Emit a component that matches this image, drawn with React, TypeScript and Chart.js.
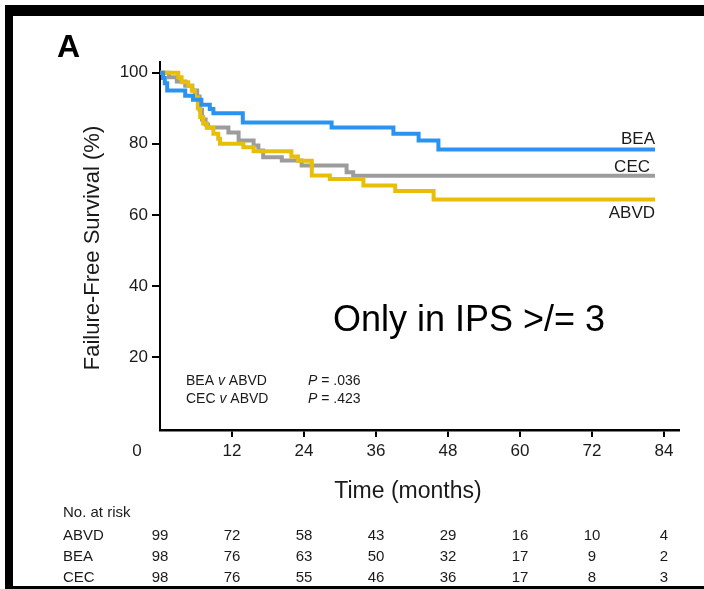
import React, { useEffect, useRef } from "react";
import { Chart, registerables } from "chart.js";

Chart.register(...registerables);

const FONT = "'Liberation Sans', Arial, Helvetica, sans-serif";

// Axis ticks
const X_TICKS = [12, 24, 36, 48, 60, 72, 84];
const Y_TICKS = [20, 40, 60, 80, 100];

// Kaplan-Meier steps (months, failure-free survival %)
const BEA_T = [0, 0.5, 0.8, 1.2, 4.2, 5.5, 6.9, 8.3, 8.9, 13.8, 28.6, 38.9, 43.1, 46.4, 82.5];
const BEA_S = [100, 98.5, 97, 95, 93.5, 92.4, 91.0, 89.8, 88.6, 86.0, 84.6, 82.8, 80.9, 78.4, 78.4];

const CEC_T = [0, 1.5, 2.8, 4.2, 5.4, 6.2, 6.6, 7.0, 7.6, 8.0, 11.4, 13.1, 15.6, 16.4, 17.2, 20.3, 23.6, 31.1, 32.2, 82.5];
const CEC_S = [100, 98.7, 97.5, 96.3, 95.0, 93.3, 89.6, 86.8, 85.4, 84.6, 83.2, 80.9, 79.5, 78.1, 76.2, 75.3, 73.9, 72.0, 71.0, 71.0];

const ABVD_T = [0, 3.05, 3.6, 4.7, 5.3, 5.8, 6.3, 6.7, 7.2, 7.8, 8.9, 9.7, 10.0, 13.9, 15.6, 21.9, 23.0, 25.3, 28.3, 33.9, 39.2, 45.6, 82.5];
const ABVD_S = [100, 98.7, 97.3, 96.3, 95.0, 93.0, 90.0, 87.5, 85.7, 84.5, 82.8, 81.4, 80.0, 79.0, 77.9, 76.4, 75.2, 71.1, 70.1, 68.3, 66.7, 64.3, 64.3];

// Number at risk table
const RISK_TIMES = [0, 12, 24, 36, 48, 60, 72, 84];
const RISK_ABVD = [99, 72, 58, 43, 29, 16, 10, 4];
const RISK_BEA = [98, 76, 63, 50, 32, 17, 9, 2];
const RISK_CEC = [98, 76, 55, 46, 36, 17, 8, 3];

const SERIES_NAMES = ["BEA", "ABVD", "CEC"];
const COLORS = ["#2A93F2", "#E9BE08", "#9C9C9C"];

const toPts = (t: number[], s: number[]) => t.map((x, i) => ({ x, y: s[i] }));

export default function App() {
  const ref = useRef<HTMLCanvasElement>(null);

  useEffect(() => {
    const canvas = ref.current!;
    const overlay = {
      id: "overlay",
      afterDraw(chart: any) {
        const ctx = chart.ctx as CanvasRenderingContext2D;
        const xs = chart.scales.x;
        const ys = chart.scales.y;
        ctx.save();
        // frame
        ctx.fillStyle = "#000";
        ctx.fillRect(5, 5, 699, 11);
        ctx.fillRect(5, 5, 8, 584);
        ctx.fillRect(5, 586, 699, 3);

        // panel letter
        ctx.fillStyle = "#000";
        ctx.font = `bold 32px ${FONT}`;
        ctx.textAlign = "left";
        ctx.textBaseline = "alphabetic";
        ctx.fillText("A", 57, 57);

        // y title
        ctx.fillStyle = "#1a1a1a";
        ctx.save();
        ctx.translate(99, 248);
        ctx.rotate(-Math.PI / 2);
        ctx.font = `22px ${FONT}`;
        ctx.textAlign = "center";
        ctx.textBaseline = "alphabetic";
        ctx.fillText("Failure-Free Survival (%)", 0, 0);
        ctx.restore();

        // origin label
        ctx.font = `17px ${FONT}`;
        ctx.textAlign = "center";
        ctx.textBaseline = "middle";
        ctx.fillText("0", 137, 451);

        // x title
        ctx.font = `23px ${FONT}`;
        ctx.textAlign = "center";
        ctx.textBaseline = "alphabetic";
        ctx.fillText("Time (months)", 408, 498);

        // risk table
        ctx.font = `15px ${FONT}`;
        ctx.textAlign = "left";
        ctx.fillText("No. at risk", 63, 517);
        const rows: [string, number[]][] = [
          ["ABVD", RISK_ABVD],
          ["BEA", RISK_BEA],
          ["CEC", RISK_CEC],
        ];
        rows.forEach(([name, vals], r) => {
          const yb = 540 + r * 21;
          ctx.textAlign = "left";
          ctx.fillText(name, 63, yb);
          ctx.textAlign = "center";
          vals.forEach((v, i) => {
            ctx.fillText(String(v), xs.getPixelForValue(RISK_TIMES[i]), yb);
          });
        });

        // p-values
        const drawRich = (parts: [string, boolean][], x: number, y: number) => {
          let cx = x;
          parts.forEach(([t, it]) => {
            ctx.font = `${it ? "italic " : ""}14px ${FONT}`;
            ctx.fillText(t, cx, y);
            cx += ctx.measureText(t).width;
          });
        };
        ctx.textAlign = "left";
        drawRich([["BEA ", false], ["v", true], [" ABVD", false]], 186, 385);
        drawRich([["P", true], [" = .036", false]], 308, 385);
        drawRich([["CEC ", false], ["v", true], [" ABVD", false]], 186, 403);
        drawRich([["P", true], [" = .423", false]], 308, 403);

        // note
        ctx.fillStyle = "#000";
        ctx.font = `36px ${FONT}`;
        ctx.textAlign = "left";
        ctx.fillText("Only in IPS >/= 3", 333, 331);

        // curve labels
        ctx.fillStyle = "#1a1a1a";
        ctx.font = `17px ${FONT}`;
        ctx.textAlign = "right";
        const xr = xs.getPixelForValue(BEA_T[BEA_T.length - 1]);
        ctx.fillText("BEA", xr, ys.getPixelForValue(BEA_S[BEA_S.length - 1]) - 5);
        ctx.fillText("CEC", xr - 5, ys.getPixelForValue(CEC_S[CEC_S.length - 1]) - 4);
        ctx.fillText("ABVD", xr, ys.getPixelForValue(ABVD_S[ABVD_S.length - 1]) + 18);
        ctx.restore();
      },
    };

    const mk = (i: number, t: number[], s: number[]) => ({
      label: SERIES_NAMES[i],
      data: toPts(t, s),
      borderColor: COLORS[i],
      backgroundColor: COLORS[i],
      borderWidth: 4,
      pointRadius: 0,
      stepped: true as const,
      fill: false,
      borderCapStyle: "butt" as const,
      borderJoinStyle: "miter" as const,
    });

    const chart = new Chart(canvas, {
      type: "line",
      data: {
        datasets: [mk(0, BEA_T, BEA_S), mk(1, ABVD_T, ABVD_S), mk(2, CEC_T, CEC_S)],
      },
      options: {
        responsive: false,
        animation: false,
        layout: { padding: { left: 0, right: 25, top: 62, bottom: 0 } },
        plugins: { legend: { display: false }, tooltip: { enabled: false }, title: { display: false } },
        scales: {
          x: {
            type: "linear",
            min: 0,
            max: 86.5,
            afterBuildTicks: (s: any) => {
              s.ticks = X_TICKS.map((v) => ({ value: v }));
            },
            afterFit: (s: any) => {
              s.height = 159;
            },
            grid: { display: true, drawOnChartArea: false, drawTicks: true, tickLength: 7, color: "#000", lineWidth: 2 },
            border: { display: true, color: "#000", width: 2.5 },
            ticks: { font: { size: 17, family: FONT }, color: "#1a1a1a", padding: 4, maxRotation: 0, autoSkip: false },
          },
          y: {
            type: "linear",
            min: -0.5,
            max: 103,
            afterBuildTicks: (s: any) => {
              s.ticks = Y_TICKS.map((v) => ({ value: v }));
            },
            afterFit: (s: any) => {
              s.width = 160;
            },
            grid: { display: true, drawOnChartArea: false, drawTicks: true, tickLength: 8, color: "#000", lineWidth: 2 },
            border: { display: true, color: "#000", width: 2 },
            ticks: { font: { size: 17, family: FONT }, color: "#1a1a1a", padding: 4, autoSkip: false },
          },
        },
      },
      plugins: [overlay],
    } as any);
    return () => chart.destroy();
  }, []);

  return (
    <div style={{ position: "absolute", left: 0, top: 0, width: 704, height: 589, background: "#fff" }}>
      <canvas ref={ref} width={704} height={589} style={{ display: "block", width: 704, height: 589 }} />
    </div>
  );
}
